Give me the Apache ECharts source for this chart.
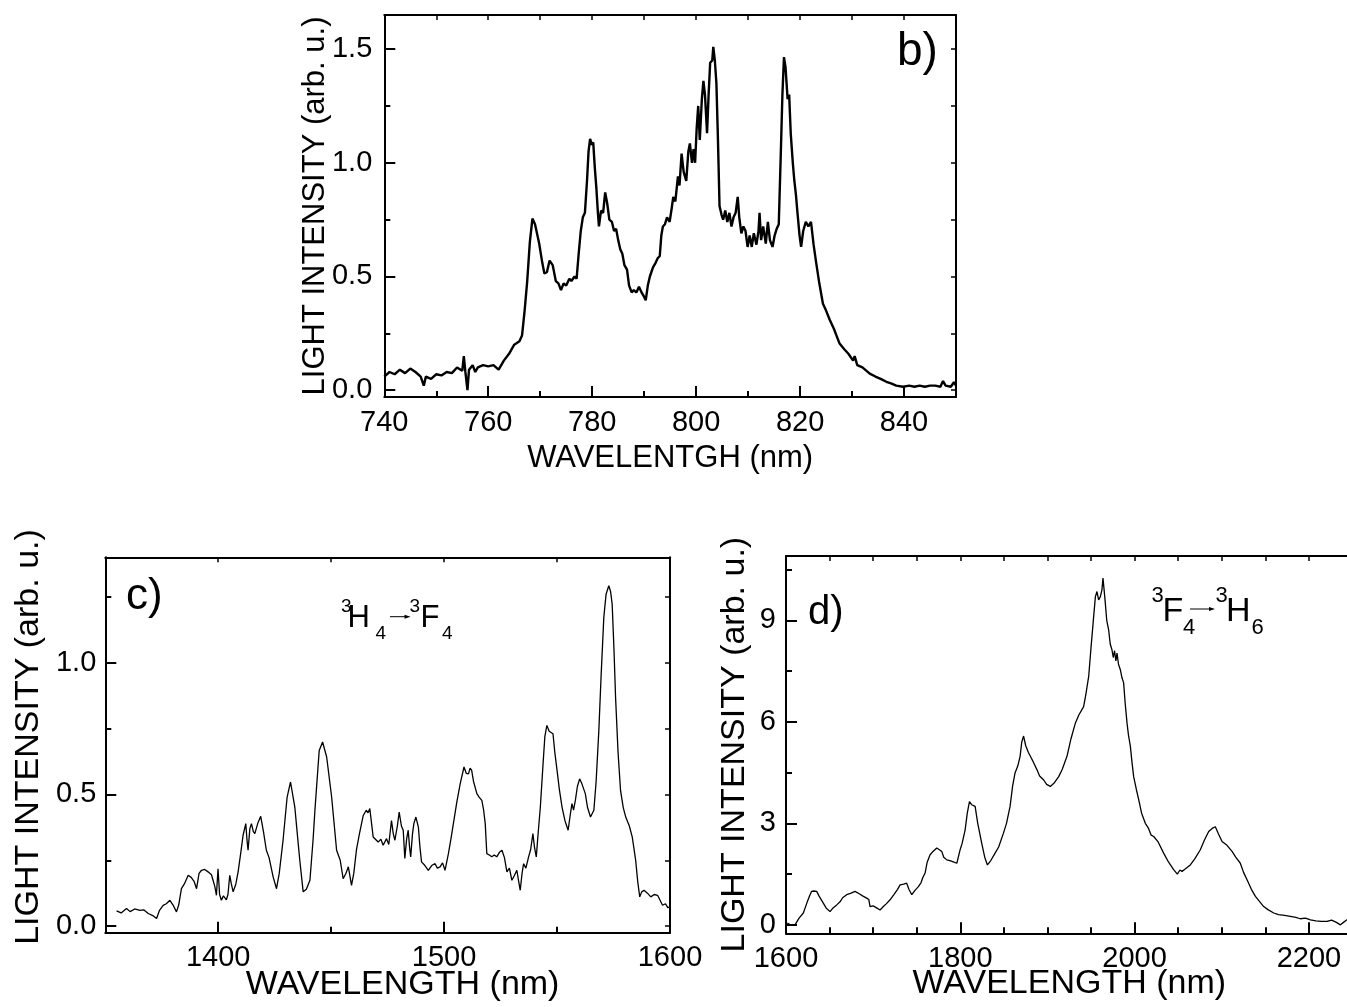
<!DOCTYPE html>
<html>
<head>
<meta charset="utf-8">
<script src="https://cdn.jsdelivr.net/npm/echarts/dist/echarts.min.js"></script>
<style>
html,body{margin:0;padding:0;background:#fff;}
#chart{width:1347px;height:1007px;}
</style>
</head>
<body>
<div id="chart"></div>
<script>
// ---------- DATA ----------
// Panel b: wavelength (nm), intensity (arb. u.)
const spectrumB = [
[740,0.06],[741,0.08],[742,0.07],[743,0.09],[744,0.075],[745,0.095],[746,0.08],[747,0.06],[747.6,0.02],[748,0.06],
[749,0.05],[750,0.07],[751,0.065],[752,0.08],[753,0.075],[754,0.1],[755,0.085],[755.3,0.15],[755.6,0.08],[756,0.0],
[756.3,0.09],[757,0.11],[757.5,0.08],[758,0.1],[759,0.11],[760,0.105],[761,0.11],[762,0.09],[763,0.13],[764,0.16],
[765,0.2],[766,0.215],[766.5,0.24],[767,0.35],[767.5,0.48],[768,0.65],[768.5,0.755],[769,0.73],[769.8,0.645],[770.4,0.56],
[770.8,0.513],[771.3,0.52],[771.8,0.57],[772.4,0.55],[773,0.48],[773.5,0.47],[774,0.44],[774.5,0.47],[775,0.46],[775.6,0.49],
[776,0.48],[776.6,0.5],[777,0.49],[777.4,0.6],[777.8,0.7],[778.2,0.76],[778.6,0.78],[779,0.92],[779.3,1.05],[779.6,1.105],
[779.9,1.08],[780.2,1.09],[780.5,0.98],[780.8,0.89],[781.1,0.78],[781.3,0.72],[781.7,0.79],[782.1,0.78],[782.5,0.87],[782.9,0.82],
[783.3,0.75],[783.8,0.74],[784.2,0.70],[784.6,0.71],[785,0.66],[785.4,0.62],[785.8,0.6],[786.2,0.55],[786.7,0.53],[787.1,0.46],
[787.6,0.43],[788,0.44],[788.5,0.43],[789,0.455],[789.5,0.43],[790,0.41],[790.3,0.395],[790.7,0.46],[791.1,0.5],[791.7,0.54],
[792.2,0.56],[792.6,0.58],[793,0.59],[793.3,0.68],[793.6,0.72],[794,0.73],[794.4,0.76],[794.9,0.74],[795.3,0.8],[795.6,0.85],
[796,0.83],[796.5,0.94],[796.8,0.9],[797.2,1.04],[797.6,0.96],[798.1,0.92],[798.5,1.05],[798.8,1.085],[799.2,1.0],[799.5,1.06],
[799.8,1.0],[800.1,1.15],[800.4,1.25],[800.7,1.1],[801.1,1.28],[801.4,1.36],[801.7,1.3],[802.1,1.13],[802.4,1.3],[802.7,1.44],
[803.1,1.45],[803.3,1.51],[803.6,1.45],[803.9,1.35],[804.2,1.1],[804.5,0.81],[804.9,0.77],[805.2,0.75],[805.6,0.79],[806,0.74],
[806.4,0.78],[806.8,0.72],[807.2,0.76],[807.6,0.78],[808,0.85],[808.3,0.76],[808.7,0.69],[809.1,0.72],[809.5,0.7],[809.9,0.63],
[810.3,0.68],[810.7,0.63],[811.1,0.69],[811.6,0.64],[812,0.7],[812.2,0.78],[812.5,0.66],[812.9,0.72],[813.4,0.645],[813.8,0.74],
[814.2,0.66],[814.7,0.63],[815.1,0.68],[815.5,0.71],[815.9,0.73],[816.3,1.05],[816.6,1.3],[816.9,1.465],[817.2,1.42],[817.6,1.28],
[817.9,1.3],[818.2,1.13],[818.6,1.0],[818.9,0.92],[819.2,0.86],[819.5,0.78],[819.9,0.68],[820.2,0.63],[820.6,0.7],[821.1,0.74],
[821.6,0.72],[822.1,0.74],[822.6,0.64],[823.1,0.56],[823.7,0.47],[824.4,0.38],[825,0.35],[825.7,0.31],[826.5,0.27],[827.6,0.205],
[828.5,0.18],[829.3,0.16],[830.2,0.13],[830.5,0.15],[831,0.11],[832,0.1],[833.4,0.073],[834.5,0.06],[835.5,0.05],[836.6,0.037],
[837.5,0.03],[838.5,0.02],[839.8,0.015],[841,0.02],[842,0.015],[843,0.02],[844,0.015],[845,0.02],[846,0.02],[847,0.015],
[847.5,0.04],[848,0.02],[849,0.015],[849.6,0.035],[850,0.02]
];
// Panel c
const spectrumC = [
[1355,0.058],[1357,0.05],[1359.4,0.067],[1361,0.055],[1363,0.065],[1365.3,0.06],[1367,0.062],[1369,0.048],[1371,0.04],[1372.7,0.029],
[1374,0.06],[1375.6,0.079],[1377,0.085],[1378.6,0.098],[1380,0.08],[1381.5,0.054],[1382.5,0.08],[1383.7,0.142],[1385,0.16],[1386.7,0.193],
[1388,0.185],[1389.3,0.17],[1390.4,0.142],[1391.5,0.2],[1392.6,0.212],[1394,0.215],[1395.5,0.206],[1397,0.195],[1397.7,0.174],[1398.5,0.15],
[1399.2,0.117],[1399.9,0.218],[1400.6,0.12],[1401.4,0.098],[1402.3,0.115],[1403.6,0.1],[1404.3,0.12],[1405.1,0.193],[1405.8,0.16],[1406.6,0.13],
[1407.8,0.16],[1408.8,0.206],[1410,0.28],[1411,0.345],[1412.2,0.389],[1412.7,0.33],[1413.2,0.288],[1414,0.37],[1414.7,0.389],[1415.5,0.36],
[1416.2,0.351],[1417.5,0.39],[1418.8,0.417],[1420,0.36],[1421.3,0.288],[1422.5,0.26],[1424.3,0.187],[1425.8,0.142],[1427,0.2],[1428.7,0.326],
[1430.5,0.49],[1432,0.547],[1433.9,0.452],[1435,0.35],[1436.1,0.25],[1437.6,0.13],[1439,0.14],[1440.6,0.174],[1442,0.33],[1442.8,0.44],
[1444.7,0.667],[1446.2,0.699],[1448,0.642],[1450.2,0.49],[1452.4,0.288],[1454,0.25],[1455.3,0.18],[1456.5,0.2],[1457.6,0.225],[1459,0.155],
[1460,0.2],[1461.2,0.29],[1462.5,0.35],[1464.2,0.42],[1465.5,0.44],[1466.3,0.43],[1467.1,0.446],[1468.6,0.338],[1470.8,0.319],[1472,0.33],
[1473,0.307],[1474.5,0.332],[1475.5,0.31],[1476.7,0.401],[1477.5,0.35],[1478.2,0.326],[1479.3,0.38],[1480.1,0.433],[1481.1,0.38],[1481.9,0.364],
[1482.6,0.257],[1483.4,0.33],[1484.1,0.364],[1484.7,0.3],[1485.2,0.263],[1486,0.35],[1486.6,0.389],[1487.5,0.414],[1488.6,0.376],[1489.3,0.3],
[1490,0.244],[1491.5,0.23],[1493,0.212],[1494.5,0.23],[1496,0.237],[1497,0.22],[1498.2,0.225],[1499.3,0.24],[1500.4,0.212],[1501.9,0.275],
[1503,0.33],[1504.1,0.389],[1505.6,0.47],[1507.1,0.54],[1508.8,0.604],[1509.8,0.58],[1510.8,0.578],[1511.5,0.6],[1512.2,0.591],[1513,0.55],
[1514.5,0.503],[1515.5,0.49],[1516.7,0.477],[1517.5,0.44],[1518.2,0.389],[1518.9,0.275],[1520,0.27],[1521.1,0.263],[1522.2,0.27],[1523.3,0.263],
[1524.5,0.28],[1525.6,0.288],[1526.7,0.26],[1527.8,0.206],[1528.9,0.22],[1530,0.174],[1531,0.19],[1532.2,0.212],[1533,0.17],[1533.7,0.136],
[1534.5,0.2],[1535.2,0.237],[1536.2,0.22],[1537.4,0.263],[1538.3,0.29],[1539.3,0.351],[1540,0.3],[1540.8,0.263],[1541.7,0.36],[1542.6,0.452],
[1543.8,0.616],[1544.6,0.72],[1545.5,0.762],[1546.5,0.74],[1547.3,0.74],[1548.2,0.73],[1549,0.66],[1550,0.591],[1551,0.52],[1552.2,0.452],
[1553.5,0.4],[1554.9,0.364],[1555.8,0.42],[1556.6,0.465],[1557.3,0.44],[1558.1,0.477],[1559,0.53],[1560,0.559],[1561,0.54],[1562.5,0.503],
[1563.5,0.45],[1564.8,0.414],[1566.3,0.44],[1567.3,0.55],[1568.5,0.743],[1569.5,0.95],[1570.7,1.172],[1571.7,1.26],[1572.9,1.292],[1573.7,1.27],
[1574.4,1.222],[1575.2,1.05],[1575.9,0.869],[1577,0.66],[1578.1,0.515],[1579.3,0.45],[1580.4,0.414],[1582,0.38],[1583.3,0.338],[1584.8,0.25],
[1585.7,0.17],[1586.6,0.111],[1587.5,0.13],[1588.5,0.136],[1590,0.125],[1591.5,0.111],[1593,0.12],[1594.5,0.117],[1595.5,0.1],[1596.7,0.079],
[1598,0.085],[1599,0.07],[1600,0.073]
];
// Panel d
const spectrumD = [
[1601.5,0.05],[1605,0.0],[1610.3,0.0],[1615,0.2],[1619.9,0.35],[1624,0.65],[1627,0.85],[1629.4,0.99],[1632,1.0],[1635.2,0.99],
[1638,0.85],[1642.8,0.64],[1646,0.5],[1650.5,0.39],[1654,0.5],[1658.2,0.59],[1662,0.68],[1665,0.8],[1669.6,0.89],[1674,0.93],
[1679.2,0.99],[1684,0.92],[1688.8,0.84],[1692.6,0.79],[1695,0.75],[1696.4,0.54],[1700,0.56],[1704,0.5],[1707.9,0.44],[1712,0.55],
[1715,0.62],[1719.4,0.74],[1724,0.9],[1728,1.05],[1730.9,1.18],[1735,1.2],[1738.5,1.23],[1741,1.05],[1744.3,0.89],[1748,1.02],
[1751.9,1.13],[1755,1.25],[1757,1.4],[1759.6,1.53],[1762,1.85],[1765.3,2.07],[1768,2.15],[1773,2.27],[1776,2.22],[1778.7,2.17],
[1781,2.0],[1784.5,1.92],[1788,1.9],[1792,1.86],[1796,1.82],[1798,1.85],[1799.8,2.22],[1802,2.4],[1805.5,2.8],[1808,3.3],
[1810.5,3.64],[1813,3.55],[1815,3.52],[1817,3.5],[1820,3.0],[1824.6,2.41],[1828,2.0],[1831.1,1.77],[1835,1.9],[1839.9,2.12],
[1844,2.3],[1849.5,2.71],[1853,3.0],[1857.1,3.5],[1860,4.1],[1862.8,4.49],[1866,4.7],[1868.6,4.98],[1870.5,5.4],[1872.6,5.58],
[1875,5.3],[1878,5.1],[1880.4,4.98],[1884,4.8],[1888,4.58],[1891,4.4],[1895.7,4.28],[1899,4.15],[1903.3,4.09],[1908,4.2],
[1912.9,4.38],[1917,4.6],[1922.4,4.98],[1927,5.5],[1932,5.96],[1936,6.2],[1941.5,6.45],[1944,6.8],[1947.3,7.34],[1950,8.2],
[1953,9.11],[1955,9.7],[1956.8,9.85],[1958.7,9.6],[1960.7,9.7],[1962.5,9.9],[1963.7,10.25],[1965,9.9],[1966.4,9.5],[1968,9.0],
[1970.2,8.72],[1972,8.3],[1974,8.13],[1975.5,7.9],[1977,8.1],[1978.5,7.8],[1979.8,8.03],[1981.5,7.7],[1983.6,7.54],[1985.5,7.3],
[1987.4,7.15],[1989,6.6],[1991.3,5.96],[1993,5.6],[1995.1,5.28],[1997,4.8],[1998.9,4.38],[2002,4.0],[2004.7,3.7],[2008,3.3],
[2012.3,3.0],[2016,2.85],[2019,2.65],[2021.9,2.61],[2027,2.45],[2033.3,2.12],[2039,1.85],[2044.8,1.63],[2049,1.5],[2052,1.62],
[2054.4,1.58],[2058,1.65],[2063.9,1.77],[2069,1.95],[2075.4,2.22],[2080,2.5],[2085,2.76],[2089,2.85],[2092.6,2.9],[2096,2.7],
[2100.3,2.46],[2106,2.35],[2111.8,2.17],[2116,2.0],[2121.3,1.82],[2125,1.55],[2129,1.33],[2134,1.05],[2138.6,0.84],[2143,0.7],
[2148.1,0.54],[2153,0.45],[2159.6,0.35],[2165,0.3],[2172,0.28],[2178.7,0.25],[2185,0.22],[2190,0.18],[2196,0.2],[2201.7,0.15],
[2208,0.12],[2214,0.1],[2220.8,0.1],[2226,0.14],[2231,0.08],[2236.1,0.0],[2240,0.08],[2243.7,0.15],[2247,0.1],[2250,0.12]
];

// Tick values / labels
const bXMajor = [740,760,780,800,820,840];
const bXMinor = [750,770,790,810,830,850];
const bXTop   = [750,760,770,780,790,800,810,820,830,840];
const bYMajor = [0,0.5,1.0,1.5];
const bYMinor = [0.25,0.75,1.25];
const bYRight = [0,0.25,0.5,0.75,1.0,1.25,1.5];

const cXMajor = [1400,1500,1600];
const cXMinor = [1450,1550];
const cXTop   = [1400,1450,1500,1550];
const cYMajor = [0,0.5,1.0];
const cYMinor = [0.25,0.75,1.25];
const cYRight = [0,0.25,0.5,0.75,1.0,1.25];

const dXMajor = [1600,1800,2000,2200];
const dXMinor = [1650,1700,1750,1850,1900,1950,2050,2100,2150];
const dXTop   = [1650,1700,1750,1800,1850,1900,1950,2000,2050,2100,2150,2200];
const dYMajor = [0,3,6,9];
const dYMinor = [1.5,4.5,7.5,10.5];

// ---------- CHART ----------
const FONT = '"Liberation Sans", Arial, Helvetica, sans-serif';
const chart = echarts.init(document.getElementById('chart'), null, {renderer:'canvas'});

const xAxes = [], yAxes = [], grids = [], series = [];

function addPanel(p) {
  const gi = grids.length;
  grids.push({left:p.grid[0], top:p.grid[1], width:p.grid[2], height:p.grid[3],
              containLabel:false, outerBoundsMode:'none'});
  const xi = xAxes.length, yi = yAxes.length;
  const axBase = {type:'value', gridIndex:gi, splitLine:{show:false}};
  // bottom main axis
  xAxes.push(Object.assign({}, axBase, {
    position:'bottom', min:p.x[0], max:p.x[1],
    axisLine:{show:true, onZero:false, lineStyle:{color:'#000', width:2}},
    axisTick:{show:true, inside:true, length:11, customValues:p.xMajor, lineStyle:{color:'#000', width:2}},
    axisLabel:{show:true, customValues:p.xMajor, margin:p.xLabelMargin, color:'#000', fontSize:p.tickFont, fontFamily:FONT,
               formatter:(v)=>String(Math.round(v))},
    name:p.xName, nameLocation:'middle', nameGap:p.xNameGap, nameMoveOverlap:false,
    nameTextStyle:{color:'#000', fontSize:p.titleFont, fontFamily:FONT, padding:p.xNamePad || 0}
  }));
  // bottom minor ticks
  xAxes.push(Object.assign({}, axBase, {
    position:'bottom', min:p.x[0], max:p.x[1],
    axisLine:{show:false, onZero:false},
    axisTick:{show:true, inside:true, length:6, customValues:p.xMinor, lineStyle:{color:'#000', width:2}},
    axisLabel:{show:false}
  }));
  // top axis
  xAxes.push(Object.assign({}, axBase, {
    position:'top', min:p.x[0], max:p.x[1],
    axisLine:{show:true, onZero:false, lineStyle:{color:'#000', width:2}},
    axisTick:{show:true, inside:true, length:5, customValues:p.xTop, lineStyle:{color:'#000', width:1.5}},
    axisLabel:{show:false}
  }));
  // left main
  yAxes.push(Object.assign({}, axBase, {
    position:'left', min:p.y[0], max:p.y[1],
    axisLine:{show:true, onZero:false, lineStyle:{color:'#000', width:2}},
    axisTick:{show:true, inside:true, length:11, customValues:p.yMajor, lineStyle:{color:'#000', width:2}},
    axisLabel:{show:true, customValues:p.yMajor, margin:p.yLabelMargin, color:'#000', fontSize:p.tickFont, fontFamily:FONT,
               formatter:(v)=>v.toFixed(p.yDec)},
    name:p.yName, nameLocation:'middle', nameRotate:90, nameGap:p.yNameGap, nameMoveOverlap:false,
    nameTextStyle:{color:'#000', fontSize:p.titleFont, fontFamily:FONT, padding:p.yNamePad || 0}
  }));
  // left minor
  yAxes.push(Object.assign({}, axBase, {
    position:'left', min:p.y[0], max:p.y[1],
    axisLine:{show:false, onZero:false},
    axisTick:{show:true, inside:true, length:6, customValues:p.yMinor, lineStyle:{color:'#000', width:2}},
    axisLabel:{show:false}
  }));
  // right
  yAxes.push(Object.assign({}, axBase, {
    position:'right', min:p.y[0], max:p.y[1],
    axisLine:{show:true, onZero:false, lineStyle:{color:'#000', width:2}},
    axisTick:{show:true, inside:true, length:5, customValues:p.yRight, lineStyle:{color:'#000', width:1.5}},
    axisLabel:{show:false}
  }));
  series.push({
    type:'line', xAxisIndex:xi, yAxisIndex:yi, data:p.data, showSymbol:false, symbol:'none',
    lineStyle:{color:'#000', width:p.lineWidth}, itemStyle:{color:'#000'}, clip:true, silent:true
  });
}

addPanel({grid:[384.3,15,571.7,382], x:[740,850], y:[-0.03,1.65],
  xMajor:bXMajor, xMinor:bXMinor, xTop:bXTop, yMajor:bYMajor, yMinor:bYMinor, yRight:bYRight,
  yDec:1, tickFont:29, titleFont:31, xLabelMargin:11, yLabelMargin:12,
  xName:'WAVELENTGH (nm)', xNameGap:46, yName:'LIGHT INTENSITY (arb. u.)', yNameGap:53,
  data:spectrumB, lineWidth:2.4});

addPanel({grid:[105.3,557.3,564.7,375.4], x:[1350,1600], y:[-0.025,1.4],
  xMajor:cXMajor, xMinor:cXMinor, xTop:cXTop, yMajor:cYMajor, yMinor:cYMinor, yRight:cYRight,
  yDec:1, tickFont:29, titleFont:34, xLabelMargin:11, yLabelMargin:9,
  xName:'WAVELENGTH (nm)', xNameGap:35, xNamePad:[0,0,0,30], yName:'LIGHT INTENSITY (arb. u.)', yNameGap:60, yNamePad:[0,0,0,16],
  data:spectrumC, lineWidth:1.3});

addPanel({grid:[786,556,566.5,377.3], x:[1600,2250], y:[-0.25,10.9],
  xMajor:dXMajor, xMinor:dXMinor, xTop:dXTop, yMajor:dYMajor, yMinor:dYMinor, yRight:[],
  yDec:0, tickFont:29, titleFont:34, xLabelMargin:11, yLabelMargin:10,
  xName:'WAVELENGTH (nm)', xNameGap:33, yName:'LIGHT INTENSITY (arb. u.)', yNameGap:34,
  data:spectrumD, lineWidth:1.3});

function txt(s, x, y, size) {
  return {type:'text', x:x, y:y, silent:true,
    style:{text:s, fill:'#000', font:size+'px '+FONT, textAlign:'left', textVerticalAlign:'top', verticalAlign:'top'}};
}
const graphics = [
  txt('b)', 897, 29.4, 46),
  txt('c)', 126, 574.5, 44),
  txt('d)', 808, 592.8, 40),
  // 3H4 -> 3F4
  txt('3', 341, 596.9, 19), txt('H', 347.6, 602.9, 31), txt('4', 375.5, 623.9, 19),
  {type:'line', silent:true, shape:{x1:390, y1:616.7, x2:406, y2:616.7}, style:{stroke:'#000', lineWidth:1}},
  {type:'polygon', silent:true, shape:{points:[[404.5,614.7],[410.5,616.7],[404.5,618.7]]}, style:{fill:'#000'}},
  txt('3', 409.5, 596.9, 19), txt('F', 420.6, 602.9, 31), txt('4', 442, 623.9, 19),
  // 3F4 -> 3H6
  txt('3', 1151.5, 584.7, 22), txt('F', 1162.5, 594.5, 34), txt('4', 1183, 616.9, 22),
  {type:'line', silent:true, shape:{x1:1190, y1:609, x2:1210, y2:609}, style:{stroke:'#000', lineWidth:1}},
  {type:'polygon', silent:true, shape:{points:[[1209,607],[1215,609],[1209,611]]}, style:{fill:'#000'}},
  txt('3', 1215.5, 584.7, 22), txt('H', 1226, 594.5, 34), txt('6', 1251.5, 616.9, 22)
];

chart.setOption({
  backgroundColor:'#fff',
  animation:false,
  grid:grids, xAxis:xAxes, yAxis:yAxes, series:series,
  graphic:graphics
});
</script>
</body>
</html>
